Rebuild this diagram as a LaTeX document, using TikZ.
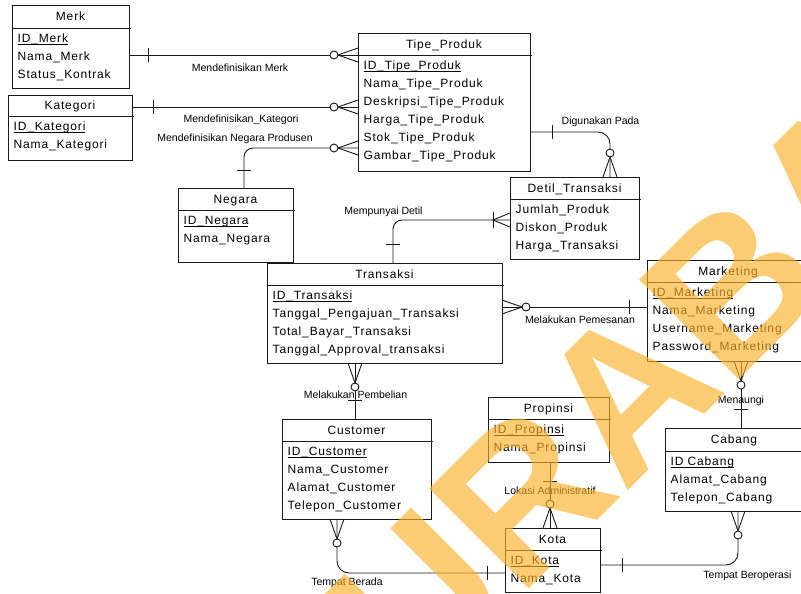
\documentclass[tikz,border=0pt]{standalone}
\usepackage{fontspec}
\setmainfont{Liberation Sans}
\newfontfamily\erfont[LetterSpace=7]{Liberation Sans}
\usetikzlibrary{calc,fit}

\definecolor{erline}{gray}{0.1}
\definecolor{wmorange}{RGB}{250,178,40}

% underlined primary key
\newcommand{\erkey}[1]{\setbox0=\hbox{#1}\rlap{\rule[-1.9pt]{\wd0}{0.7pt}}\box0}

\tikzset{
  ebox/.style={draw=erline, line width=0.9pt, inner sep=0pt, outer sep=0pt},
  rel/.style={draw=erline, line width=0.9pt},
  etitle/.style={font=\erfont\fontsize{12}{14}\selectfont, inner sep=0pt, anchor=base},
  attr/.style={font=\erfont\fontsize{12}{14}\selectfont, inner sep=0pt, anchor=base west},
  rlabel/.style={font=\fontsize{10.5}{12}\selectfont, inner sep=0pt, anchor=base},
  zeromany/.pic={\draw[rel] (0,7) -- (20,0) -- (0,-7); \draw[rel, fill=white] (24,0) circle[radius=4];},
  onebar/.pic={\draw[rel] (#1,-7) -- (#1,7);},
  onemany/.pic={\draw[rel] (0,7) -- (17,0) -- (0,-7); \draw[rel] (17,-8) -- (17,8);},
  wm/.style={font=\fontsize{205}{205}\selectfont\bfseries, text=wmorange, text opacity=0.65, inner sep=0pt}
}

% #1 name, #2 left, #3 top, #4 right, #5 bottom, #6 header line, #7 title,
% #8 attributes, #9 index of the underlined key (0 = none)
\newcommand{\entity}[9]{%
  \coordinate (#1-nw) at (#2,#3);
  \coordinate (#1-se) at (#4,#5);
  \node[ebox, fit=(#1-nw)(#1-se)] (#1) {};
  \draw[ebox] (#2,#6) -- ({#4+2},#6);
  \node[etitle] (#1-title) at ({(#2+#4)/2},{(#3+#6)/2+4.3}) {#7};
  \foreach \a [count=\i] in {#8}
    \node[attr] (#1-a\i) at ({#2+5.5},{#6+14.5+18*(\i-1)}) {\ifnum\i=#9 \erkey{\a}\else\a\fi};
}

\begin{document}
\begin{tikzpicture}[x=1pt, y=-1pt]
\fill[white] (0,0) rectangle (801,594);
\useasboundingbox (0,0) rectangle (801,594);

% entities
\entity{merk}{12}{5}{129}{88}{28}{Merk}{ID\_Merk, Nama\_Merk, Status\_Kontrak}{1}
\entity{kat}{8}{95}{132}{160}{116}{Kategori}{ID\_Kategori, Nama\_Kategori}{1}
\entity{tipe}{358}{33}{530}{171}{55}{Tipe\_Produk}{ID\_Tipe\_Produk, Nama\_Tipe\_Produk, Deskripsi\_Tipe\_Produk, Harga\_Tipe\_Produk, Stok\_Tipe\_Produk, Gambar\_Tipe\_Produk}{1}
\entity{neg}{178}{188}{293}{262}{210}{Negara}{ID\_Negara, Nama\_Negara}{1}
\entity{detil}{510}{177}{639}{259}{199}{Detil\_Transaksi}{Jumlah\_Produk, Diskon\_Produk, Harga\_Transaksi}{0}
\entity{trans}{267}{263}{502}{363}{285}{Transaksi}{ID\_Transaksi, Tanggal\_Pengajuan\_Transaksi, Total\_Bayar\_Transaksi, Tanggal\_Approval\_transaksi}{1}
\entity{mkt}{647}{260}{809}{361}{282}{Marketing}{ID\_Marketing, Nama\_Marketing, Username\_Marketing, Password\_Marketing}{1}
\entity{cust}{282}{419}{431}{519}{441}{Customer}{ID\_Customer, Nama\_Customer, Alamat\_Customer, Telepon\_Customer}{1}
\entity{prop}{488}{397}{609}{462}{419}{Propinsi}{ID\_Propinsi, Nama\_Propinsi}{1}
\entity{kota}{505}{528}{600}{592}{550}{Kota}{ID\_Kota, Nama\_Kota}{1}
\entity{cab}{665}{428}{803}{511}{451}{Cabang}{ID Cabang, Alamat\_Cabang, Telepon\_Cabang}{1}

% relationships
\draw[rel] ($(merk.north east)+(0,50)$) -- ($(tipe.north west)+(0,22)$);
\draw[rel] ($(kat.north east)+(0,12)$) -- ($(tipe.north west)+(0,74)$);
\draw[rel, rounded corners=9pt] ($(tipe.north west)+(0,115)$) -| ($(neg.north west)+(66,0)$);
\draw[rel, rounded corners=12pt] ($(tipe.north east)+(0,99)$) -| ($(detil.north west)+(100,0)$);
\draw[rel, rounded corners=9pt] ($(detil.north west)+(0,43)$) -| ($(trans.north west)+(126,0)$);
\draw[rel] ($(trans.north east)+(0,44)$) -- ($(mkt.north west)+(0,47)$);
\draw[rel] ($(trans.south west)+(88,0)$) -- ($(cust.north west)+(73,0)$);
\draw[rel, rounded corners=12pt] ($(cust.south west)+(55,0)$) |- ($(kota.north west)+(0,45)$);
\draw[rel] ($(prop.south west)+(62,0)$) -- ($(kota.north west)+(45,0)$);
\draw[rel] ($(mkt.south west)+(94,0)$) -- ($(cab.north west)+(76,0)$);
\draw[rel, rounded corners=12pt] ($(cab.south west)+(73,0)$) |- ($(kota.north east)+(0,37)$);

% cardinality marks
\path ($(merk.north east)+(0,50)$) pic{onebar=19};
\path ($(tipe.north west)+(0,22)$) pic[rotate=180]{zeromany};
\path ($(kat.north east)+(0,12)$) pic{onebar=21};
\path ($(tipe.north west)+(0,74)$) pic[rotate=180]{zeromany};
\path ($(tipe.north west)+(0,115)$) pic[rotate=180]{zeromany};
\path ($(neg.north west)+(66,0)$) pic[rotate=90]{onebar=18};
\path ($(tipe.north east)+(0,99)$) pic{onebar=22};
\path ($(detil.north west)+(100,0)$) pic[rotate=90]{zeromany};
\path ($(detil.north west)+(0,43)$) pic[rotate=180]{onemany};
\path ($(trans.north west)+(126,0)$) pic[rotate=90]{onebar=19};
\path ($(trans.north east)+(0,44)$) pic{zeromany};
\path ($(mkt.north west)+(0,47)$) pic[rotate=180]{onebar=18};
\path ($(trans.south west)+(88,0)$) pic[rotate=-90]{zeromany};
\path ($(cust.north west)+(73,0)$) pic[rotate=90]{onebar=19};
\path ($(cust.south west)+(55,0)$) pic[rotate=-90]{zeromany};
\path ($(kota.north west)+(0,45)$) pic[rotate=180]{onebar=18};
\path ($(prop.south west)+(62,0)$) pic[rotate=-90]{onebar=19};
\path ($(kota.north west)+(45,0)$) pic[rotate=90]{zeromany};
\path ($(mkt.south west)+(94,0)$) pic[rotate=-90]{zeromany};
\path ($(cab.north west)+(76,0)$) pic[rotate=90]{onebar=19};
\path ($(cab.south west)+(73,0)$) pic[rotate=-90]{zeromany};
\path ($(kota.north east)+(0,37)$) pic{onebar=22};

% relationship names
\node[rlabel] (l-merk) at (240,71.5) {Mendefinisikan Merk};
\node[rlabel] (l-kat) at (241,122.5) {Mendefinisikan\_Kategori};
\node[rlabel] (l-neg) at (235,141.5) {Mendefinisikan Negara Produsen};
\node[rlabel] (l-guna) at (600.5,124.5) {Digunakan Pada};
\node[rlabel] (l-detil) at (383.5,214.5) {Mempunyai Detil};
\node[rlabel] (l-pesan) at (580,323.5) {Melakukan Pemesanan};
\node[rlabel] (l-beli) at (355.5,398.5) {Melakukan Pembelian};
\node[rlabel] (l-lokasi) at (550,494.5) {Lokasi Administratif};
\node[rlabel] (l-naung) at (741,403) {Menaungi};
\node[rlabel] (l-berada) at (347,585.5) {Tempat Berada};
\node[rlabel] (l-operasi) at (747.5,578.5) {Tempat Beroperasi};

% watermark
\node[wm, rotate=45] (wm) at (666,353) {SURABAYA};
\end{tikzpicture}
\end{document}
